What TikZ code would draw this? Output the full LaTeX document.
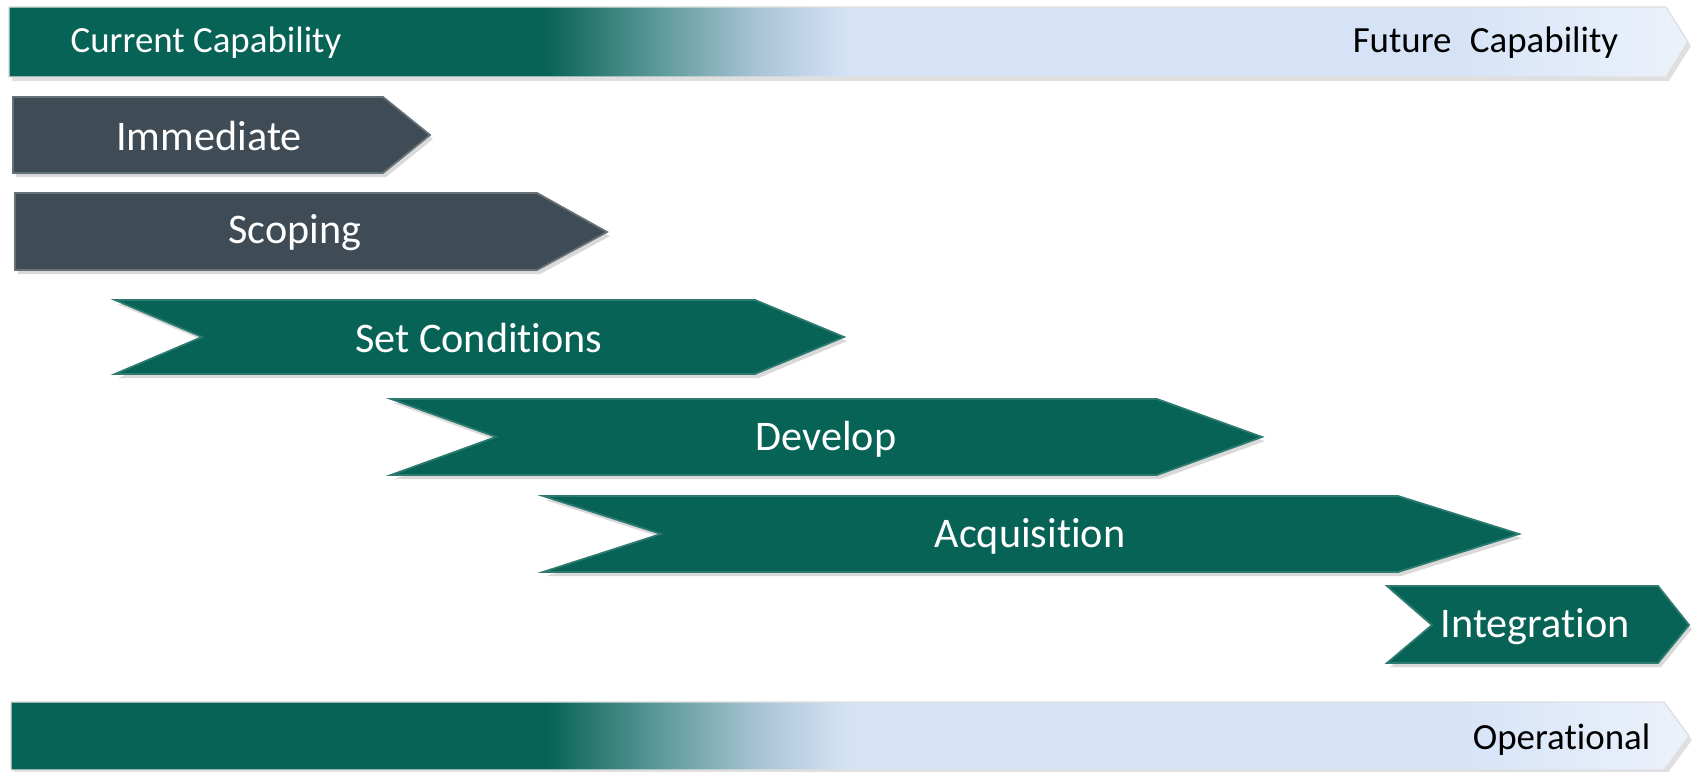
\documentclass[tikz,border=0pt]{standalone}
\usepackage{fontspec}
\setmainfont{Carlito}[Ligatures=NoCommon]
\usetikzlibrary{shadows}
\definecolor{phaseteal}{RGB}{8,99,87}
\definecolor{phaseslate}{RGB}{63,76,85}
\definecolor{capmid}{RGB}{84,148,148}
\definecolor{capgray}{RGB}{168,196,212}
\definecolor{capblue}{RGB}{214,227,247}
\definecolor{cappale}{RGB}{236,242,251}
\pgfdeclarehorizontalshading{capability}{100bp}{color(0bp)=(phaseteal); color(41bp)=(phaseteal); color(44bp)=(capmid); color(47.25bp)=(capgray); color(50bp)=(capblue); color(68bp)=(capblue); color(75bp)=(cappale); color(100bp)=(cappale)}
\tikzset{
  capbar/.style={shading=capability, draw=black!12, line width=0.4pt,
    drop shadow={opacity=0.25, shadow xshift=0.8pt, shadow yshift=-1.2pt}},
  tealphase/.style={fill=phaseteal, draw=phaseteal!85!white, line width=0.5pt,
    drop shadow={opacity=0.3, shadow xshift=0.8pt, shadow yshift=-1.2pt}},
  slatephase/.style={fill=phaseslate, draw=phaseslate!80!white, line width=0.5pt,
    drop shadow={opacity=0.3, shadow xshift=0.8pt, shadow yshift=-1.2pt}},
  phaselabel/.style={text=white, font=\fontsize{12}{14}\selectfont, inner sep=0pt},
  barlabel/.style={font=\fontsize{10.5}{12}\selectfont, inner sep=0pt}
}
\begin{document}
\begin{tikzpicture}
\useasboundingbox (0,0) rectangle (16.92,7.72);

% capability bar
\shade[capbar]
    (0.09, 7.65) --  % top left
    (16.66, 7.65) --
    (16.88, 7.30) --  % tip
    (16.66, 6.95) --
    (0.09, 6.95) -- cycle;
\node[barlabel, text=white, anchor=west] (current) at (0.70, 7.29) {Current Capability};
\node[barlabel, anchor=east] (future) at (16.19, 7.29) {Future\hspace{0.5em}Capability};

% immediate
\draw[slatephase]
    (0.13, 6.75) --
    (3.83, 6.75) --
    (4.30, 6.37) --  % tip
    (3.83, 5.99) --
    (0.13, 5.99) -- cycle;
\node[phaselabel] (immediate) at (2.09, 6.36) {Immediate};

% scoping
\draw[slatephase]
    (0.15, 5.79) --
    (5.37, 5.79) --
    (6.07, 5.40) --  % tip
    (5.37, 5.02) --
    (0.15, 5.02) -- cycle;
\node[phaselabel] (scoping) at (2.95, 5.39) {Scoping};

% set conditions
\draw[tealphase]
    (1.15, 4.72) --
    (7.55, 4.72) --
    (8.44, 4.35) --  % tip
    (7.55, 3.98) --
    (1.15, 3.98) --
    (2.02, 4.35) -- cycle;  % notch
\node[phaselabel] (setcond) at (4.79, 4.34) {Set Conditions};

% develop
\draw[tealphase]
    (3.91, 3.73) --
    (11.57, 3.73) --
    (12.62, 3.35) --  % tip
    (11.57, 2.97) --
    (3.91, 2.97) --
    (4.96, 3.35) -- cycle;  % notch
\node[phaselabel] (develop) at (8.26, 3.33) {Develop};

% acquisition
\draw[tealphase]
    (5.43, 2.76) --
    (13.98, 2.76) --
    (15.19, 2.38) --  % tip
    (13.98, 2.00) --
    (5.43, 2.00) --
    (6.61, 2.38) -- cycle;  % notch
\node[phaselabel] (acquisition) at (10.30, 2.36) {Acquisition};

% integration
\draw[tealphase]
    (13.87, 1.86) --
    (16.58, 1.86) --
    (16.89, 1.47) --  % tip
    (16.58, 1.09) --
    (13.87, 1.09) --
    (14.32, 1.47) -- cycle;  % notch
\node[phaselabel] (integration) at (15.35, 1.45) {Integration};

% operational bar
\shade[capbar]
    (0.11, 0.70) --
    (16.64, 0.70) --
    (16.89, 0.36) --  % tip
    (16.64, 0.02) --
    (0.11, 0.02) -- cycle;
\node[barlabel, anchor=east] (operational) at (16.51, 0.32) {Operational};

\end{tikzpicture}
\end{document}
